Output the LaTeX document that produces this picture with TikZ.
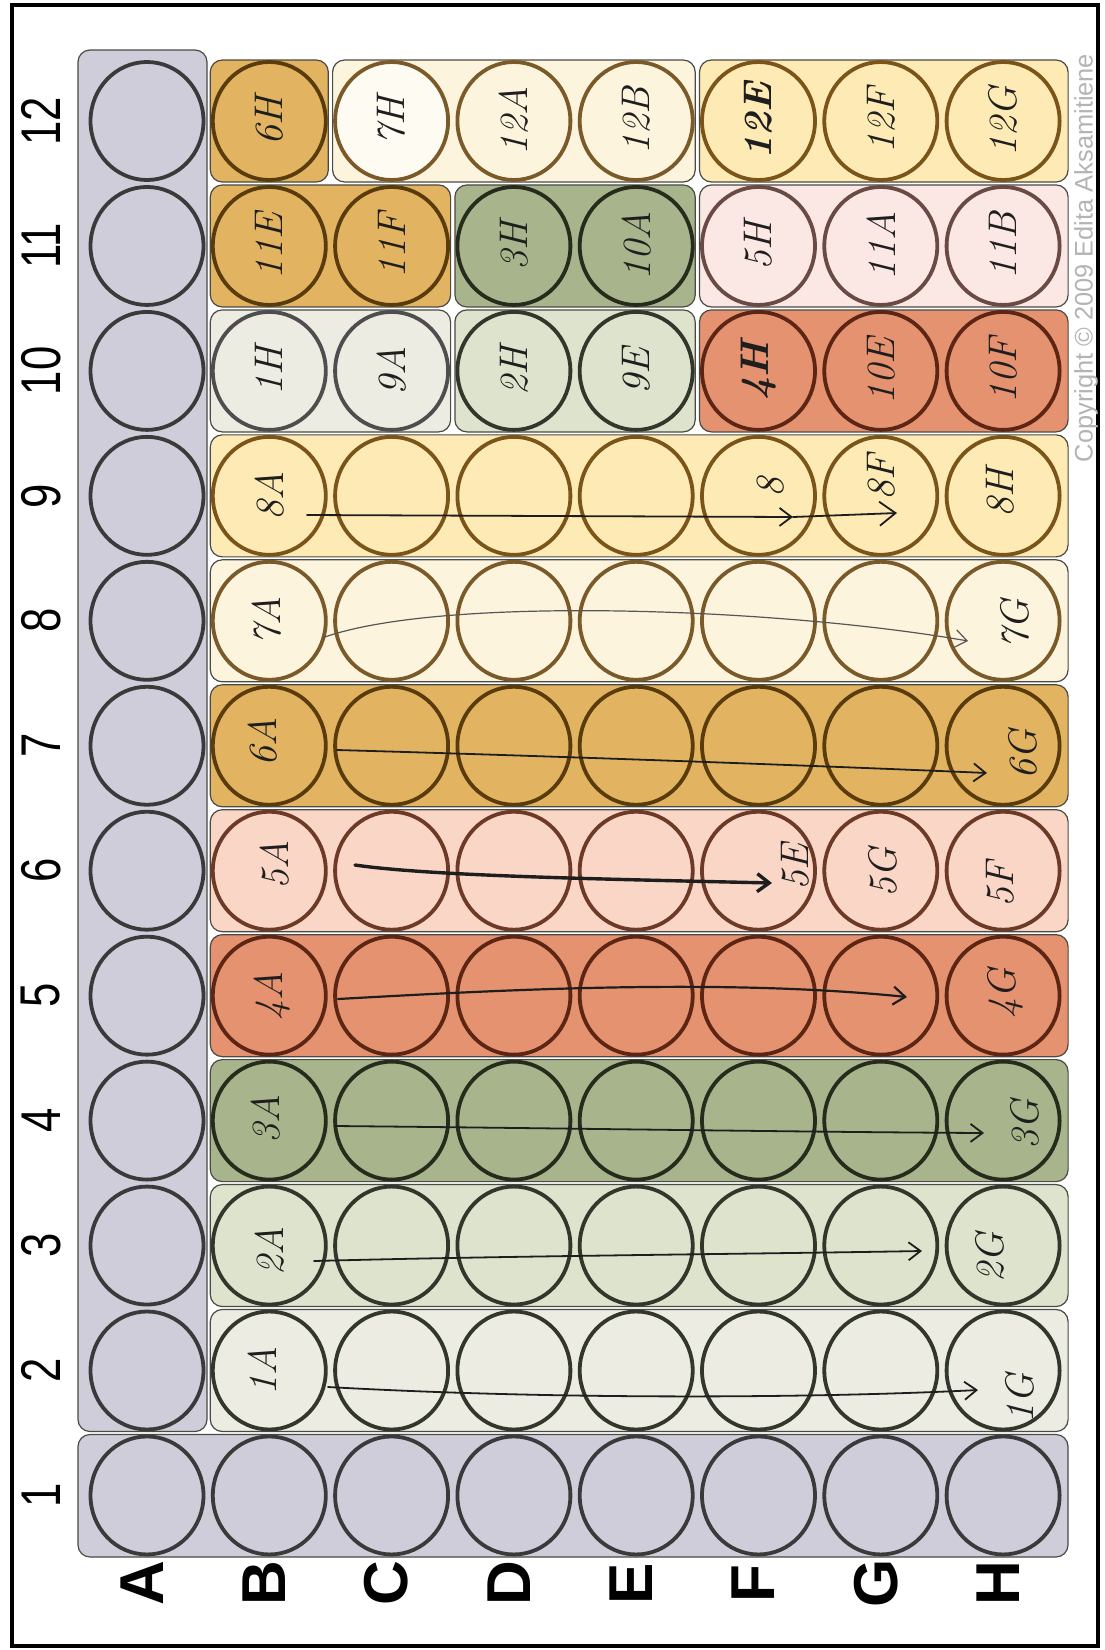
\documentclass[tikz,border=0pt]{standalone}
\usepackage{fontspec}
\newfontfamily\labelfont{Liberation Sans}
\usetikzlibrary{calc,arrows.meta,shapes.geometric}
\definecolor{platgray}{HTML}{D0CDDA}
\definecolor{cgray}{HTML}{ECECE2}
\definecolor{csage}{HTML}{DDE3CD}
\definecolor{colive}{HTML}{A7B48C}
\definecolor{csalmon}{HTML}{E59270}
\definecolor{cpink}{HTML}{FAD6C6}
\definecolor{cgold}{HTML}{E2B462}
\definecolor{ccream}{HTML}{FDF4DE}
\definecolor{cyellow}{HTML}{FEEAB4}
\definecolor{cpalepink}{HTML}{FBE7E3}
\definecolor{sgray}{HTML}{3A3A3A}
\definecolor{sdark}{HTML}{33362A}
\definecolor{solive}{HTML}{262B1C}
\definecolor{ssalmon}{HTML}{5C2514}
\definecolor{spink}{HTML}{6E3A28}
\definecolor{sgold}{HTML}{5A3C0C}
\definecolor{scream}{HTML}{7A5A28}
\definecolor{syellow}{HTML}{7A5418}
\definecolor{spalepink}{HTML}{6A4A44}
\definecolor{slight}{HTML}{4E4E4E}
\definecolor{ink}{HTML}{1E1E1E}
\definecolor{copygray}{HTML}{B4B4B4}
\definecolor{bandline}{HTML}{4A4A44}
\newcommand\plateband[5]{% first row, last row, col, fill, right extension
  \draw[band,fill=#4] ($(p-#1-#3)+(-59,-61)$) rectangle ($(p-#2-#3)+(#5,61)$);}
\newcommand\platewells[3]{% rows, col, stroke
  \foreach \rw in {#1}{\node[well,draw=#3] (w-\rw-#2) at (p-\rw-#2) {};}}
\newcommand\handlab[5][]{\node[hand,#1] (l-#2-#3) at ($(p-#2-#3)+(#4)$) {#5};}
\begin{document}
\begin{tikzpicture}[x=0.5pt,y=-0.5pt,
  band/.style={draw=bandline,line width=0.6pt,rounded corners=6pt},
  well/.style={ellipse,minimum width=56.5pt,minimum height=59pt,inner sep=0pt,line width=1.9pt},
  hand/.style={font=\fontsize{20}{20}\selectfont\itshape,rotate=90,text=ink,inner sep=0pt},
  rowlab/.style={font=\labelfont\bfseries\fontsize{31}{31}\selectfont,rotate=90,inner sep=0pt},
  collab/.style={font=\labelfont\fontsize{28}{28}\selectfont,rotate=90,inner sep=0pt},
  pen/.style={draw=ink,line width=0.9pt,line cap=round,-{Straight Barb[length=6pt,width=9pt]}}]
\useasboundingbox (0,0) rectangle (1104,1650);
\fill[white] (0,0) rectangle (1104,1650);
\draw[line width=2pt] (12,5) rectangle (1098,1646);
% grid positions
\foreach \rw/\xx in {A/147,B/269.3,C/391.6,D/513.9,E/636.2,F/758.5,G/880.8,H/1003.1}{
  \foreach \k in {1,...,12}{
    \pgfmathsetmacro\yy{121+(12-\k)*124.95}
    \coordinate (p-\rw-\k) at (\xx,\yy);
  }
}
% grey strips
\draw[band,fill=platgray] (78,50) rectangle (207,1431.5);
\draw[band,fill=platgray] (78,1434.5) rectangle (1068,1557);
% coloured bands
\plateband{B}{H}{2}{cgray}{65}
\plateband{B}{H}{3}{csage}{65}
\plateband{B}{H}{4}{colive}{65}
\plateband{B}{H}{5}{csalmon}{65}
\plateband{B}{H}{6}{cpink}{65}
\plateband{B}{H}{7}{cgold}{65}
\plateband{B}{H}{8}{ccream}{65}
\plateband{B}{H}{9}{cyellow}{65}
\plateband{B}{C}{10}{cgray}{59}
\plateband{D}{E}{10}{csage}{59}
\plateband{F}{H}{10}{csalmon}{65}
\plateband{B}{C}{11}{cgold}{59}
\plateband{D}{E}{11}{colive}{59}
\plateband{F}{H}{11}{cpalepink}{65}
\plateband{B}{B}{12}{cgold}{59}
\plateband{C}{E}{12}{ccream}{59}
\plateband{F}{H}{12}{cyellow}{65}
% wells
\foreach \k in {2,...,12}{\node[well,draw=sgray] (w-A-\k) at (p-A-\k) {};}
\platewells{A,B,C,D,E,F,G,H}{1}{sgray}
\platewells{B,C,D,E,F,G,H}{2}{sdark}
\platewells{B,C,D,E,F,G,H}{3}{sdark}
\platewells{B,C,D,E,F,G,H}{4}{solive}
\platewells{B,C,D,E,F,G,H}{5}{ssalmon}
\platewells{B,C,D,E,F,G,H}{6}{spink}
\platewells{B,C,D,E,F,G,H}{7}{sgold}
\platewells{B,C,D,E,F,G,H}{8}{scream}
\platewells{B,C,D,E,F,G,H}{9}{syellow}
\platewells{B,C}{10}{slight}
\platewells{D,E}{10}{sdark}
\platewells{F,G,H}{10}{ssalmon}
\platewells{B,C}{11}{sgold}
\platewells{D,E}{11}{solive}
\platewells{F,G,H}{11}{spalepink}
\platewells{B}{12}{sgold}
\node[well,draw=scream,fill=white!60!ccream] (w-C-12) at (p-C-12) {};
\platewells{D,E}{12}{scream}
\platewells{F,G,H}{12}{syellow}
% printed labels
\foreach \k in {1,...,12}{\node[collab] (n\k) at ($(p-A-\k)+(-106,0)$) {\scalebox{0.78}[1]{\k}};}
\foreach \rw in {A,B,C,D,E,F,G,H}{\node[rowlab] (r-\rw) at ($(p-\rw-1)+(-5,88)$) {\rw};}
\node[font=\labelfont\fontsize{12.7}{12.7}\selectfont,text=copygray,rotate=90,inner sep=0pt] (copy) at (1086,258) {Copyright © 2009 Edita Aksamitiene};
% hand-written labels
\handlab{B}{2}{-7,0}{1A}
\handlab{H}{2}{17,28}{1G}
\handlab{B}{3}{0,5}{2A}
\handlab{H}{3}{-13,12}{2G}
\handlab{B}{4}{-4,-2}{3A}
\handlab{H}{4}{22,4}{3G}
\handlab{B}{5}{3,0}{4A}
\handlab{H}{5}{2,-2}{4G}
\handlab{B}{6}{5,-6}{5A}
\handlab{F}{6}{37,-3}{5E}
\handlab{G}{6}{2,2}{5G}
\handlab{H}{6}{-3,14}{5F}
\handlab{B}{7}{-7,-4}{6A}
\handlab{H}{7}{20,9}{6G}
\handlab{B}{8}{-3,0}{7A}
\handlab{H}{8}{12,4}{7G}
\handlab{B}{9}{0,0}{8A}
\handlab{F}{9}{12,-8}{8}
\handlab{G}{9}{0,-18}{8F}
\handlab{H}{9}{-3,-3}{8H}
\handlab{B}{10}{0,0}{1H}
\handlab{C}{10}{0,0}{9A}
\handlab{D}{10}{0,0}{2H}
\handlab{E}{10}{0,0}{9E}
\handlab[font=\fontsize{20}{20}\selectfont\bfseries\itshape]{F}{10}{0,0}{4H}
\handlab{G}{10}{0,0}{10E}
\handlab{H}{10}{0,0}{10F}
\handlab{B}{11}{0,0}{11E}
\handlab{C}{11}{0,0}{11F}
\handlab{D}{11}{0,0}{3H}
\handlab{E}{11}{0,0}{10A}
\handlab{F}{11}{0,0}{5H}
\handlab{G}{11}{0,0}{11A}
\handlab{H}{11}{0,0}{11B}
\handlab{B}{12}{0,0}{6H}
\handlab{C}{12}{0,0}{7H}
\handlab{D}{12}{0,0}{12A}
\handlab{E}{12}{0,0}{12B}
\handlab[font=\fontsize{20}{20}\selectfont\bfseries\itshape]{F}{12}{0,0}{12E}
\handlab{G}{12}{0,0}{12F}
\handlab{H}{12}{0,0}{12G}
% hand-drawn arrows
\coordinate (a2s) at (328,1387); \coordinate (a2e) at (978,1390);
\coordinate (a3s) at (314,1261); \coordinate (a3e) at (922,1251);
\coordinate (a4s) at (335,1126); \coordinate (a4e) at (984,1133);
\coordinate (a5s) at (338,999);  \coordinate (a5e) at (907,997);
\coordinate (a6s) at (355,865);  \coordinate (a6e) at (772,883);
\coordinate (a7s) at (337,750);  \coordinate (a7e) at (987,773);
\coordinate (a8s) at (322,638);  \coordinate (a8e) at (968,641);
\coordinate (a9s) at (307,515);  \coordinate (a9m) at (793,517); \coordinate (a9e) at (897,513);
\draw[pen] (a2s) .. controls (560,1400) and (820,1398) .. (a2e);
\draw[pen] (a3s) .. controls (500,1256) and (750,1254) .. (a3e);
\draw[pen] (a4s) .. controls (550,1128) and (800,1132) .. (a4e);
\draw[pen,line width=1.1pt] (a5s) .. controls (500,990) and (720,978) .. (a5e);
\draw[pen,line width=1.7pt] (a6s) .. controls (430,876) and (600,879) .. (a6e);
\draw[pen] (a7s) .. controls (550,756) and (800,765) .. (a7e);
\draw[pen,line width=0.6pt,draw=ink!75] (a8s) .. controls (440,595) and (780,608) .. (a8e);
\draw[pen] (a9s) -- (a9m);
\draw[pen,-{Straight Barb[length=8pt,width=12pt]}] (a9m) -- (a9e);
\end{tikzpicture}
\end{document}
